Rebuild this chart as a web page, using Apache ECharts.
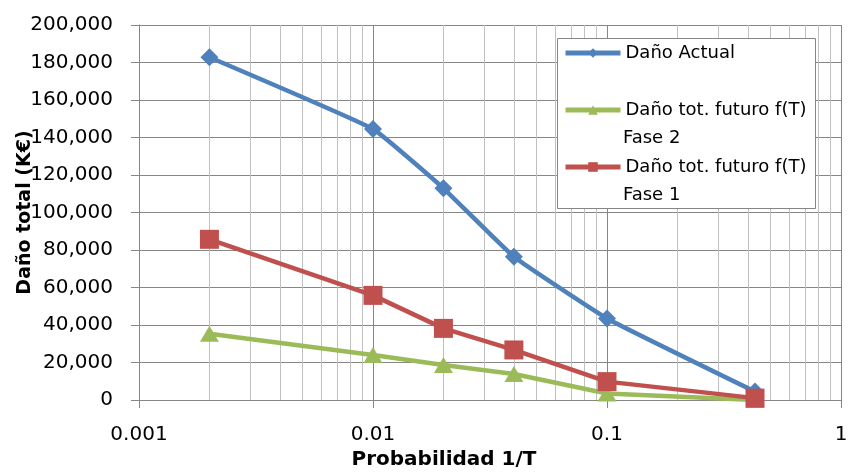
<!DOCTYPE html>
<html>
<head>
<meta charset="utf-8">
<script src="https://cdn.jsdelivr.net/npm/echarts@6/dist/echarts.min.js"></script>
<style>
  html, body { margin: 0; padding: 0; background: #fff; }
  #chart { width: 848px; height: 473px; }
</style>
</head>
<body>
<div id="chart"></div>
<script>
// annual exceedance probability 1/T
const probabilities = [0.002, 0.01, 0.02, 0.04, 0.1, 0.429]
const danoActual = [182800, 144500, 112900, 76400, 43500, 4500]
const danoFase2 = [35300, 24000, 18700, 13900, 3500, 0]
const danoFase1 = [85700, 55800, 38200, 26700, 9800, 1000]
const seriesNames = ['Daño Actual', 'Daño tot. futuro f(T)\nFase 2', 'Daño tot. futuro f(T)\nFase 1']
const xTickLabels = { 0.001: '0.001', 0.01: '0.01', 0.1: '0.1', 1: '1' }

const font = 'DejaVu Sans'
const gridGray = '#868686'

const pairs = ys => probabilities.map((p, i) => [p, ys[i]])

// legend shows the first line next to the icon, the second line goes underneath
const legendText = (text, y) => ({
  type: 'text',
  z: 5,
  left: 623,
  top: y,
  style: { text: text, fontFamily: font, fontSize: 18, fill: '#000' }
})

const chart = echarts.init(document.getElementById('chart'))
chart.setOption({
  animation: false,
  textStyle: { fontFamily: font, color: '#000' },
  grid: { left: 139, right: 7, top: 25, bottom: 73, containLabel: false, outerBoundsMode: 'none' },
  graphic: [
    {
      type: 'rect',
      z: 1,
      shape: { x: 557.5, y: 38.5, width: 258, height: 170 },
      style: { fill: '#fff', stroke: gridGray, lineWidth: 1 }
    },
    legendText(seriesNames[1].split('\n')[1], 129),
    legendText(seriesNames[2].split('\n')[1], 186)
  ],
  legend: {
    orient: 'vertical',
    left: 563,
    top: 39,
    padding: 0,
    itemWidth: 55,
    itemHeight: 12,
    itemGap: 29,
    data: seriesNames,
    lineStyle: { width: 5 },
    formatter: name => name.split('\n')[0],
    textStyle: { fontFamily: font, fontSize: 18, lineHeight: 28, color: '#000' }
  },
  xAxis: {
    type: 'log',
    logBase: 10,
    min: 0.001,
    max: 1,
    name: 'Probabilidad 1/T',
    nameLocation: 'middle',
    nameGap: 50,
    nameMoveOverlap: false,
    nameTextStyle: { fontFamily: font, fontSize: 20, fontWeight: 'bold', color: '#000', padding: [0, 92, 0, 0] },
    axisLine: { lineStyle: { color: gridGray, width: 1 } },
    axisTick: { show: true, length: 8, lineStyle: { color: gridGray } },
    axisLabel: {
      margin: 25, fontSize: 20, color: '#000', fontFamily: font,
      formatter: v => xTickLabels[v] || String(v)
    },
    splitLine: { show: true, lineStyle: { color: gridGray, width: 1 } },
    minorTick: { show: false, splitNumber: 9 },
    minorSplitLine: { show: true, lineStyle: { color: '#c0c0c0', width: 1 } }
  },
  yAxis: {
    type: 'value',
    min: 0,
    max: 200000,
    interval: 20000,
    name: 'Daño total (K€)',
    nameLocation: 'middle',
    nameGap: 104,
    nameMoveOverlap: false,
    nameTextStyle: { fontFamily: font, fontSize: 19, fontWeight: 'bold', color: '#000' },
    axisLine: { show: true, lineStyle: { color: gridGray, width: 1 } },
    axisTick: { show: true, length: 8, lineStyle: { color: gridGray } },
    axisLabel: {
      margin: 26, fontSize: 20, color: '#000', fontFamily: font,
      formatter: v => v.toLocaleString('en-US')
    },
    splitLine: { show: true, lineStyle: { color: gridGray, width: 1 } }
  },
  series: [
    {
      name: seriesNames[0],
      type: 'line',
      data: pairs(danoActual),
      smooth: 0.1,
      symbol: 'diamond',
      symbolSize: 18,
      lineStyle: { color: '#4F81BD', width: 4.5 },
      itemStyle: { color: '#4F81BD' }
    },
    {
      name: seriesNames[1],
      type: 'line',
      data: pairs(danoFase2),
      symbol: 'triangle',
      symbolSize: [19, 16],
      lineStyle: { color: '#9BBB59', width: 4.5 },
      itemStyle: { color: '#9BBB59' }
    },
    {
      name: seriesNames[2],
      type: 'line',
      data: pairs(danoFase1),
      symbol: 'rect',
      symbolSize: 19,
      lineStyle: { color: '#C0504D', width: 4.5 },
      itemStyle: { color: '#C0504D' }
    }
  ]
})
</script>
</body>
</html>
